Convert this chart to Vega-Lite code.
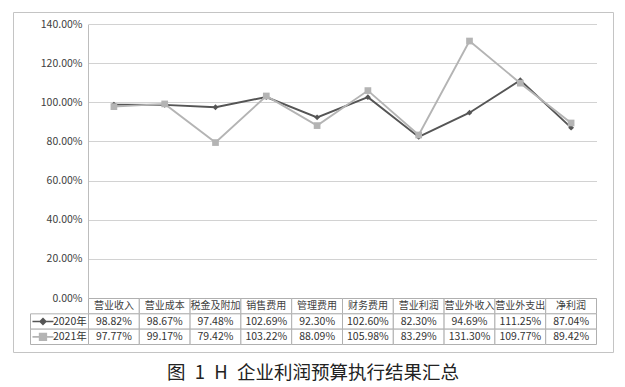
{
  "$schema": "https://vega.github.io/schema/vega-lite/v6.json",
  "width": 600,
  "height": 340,
  "autosize": {"type": "none"},
  "padding": {"left": 13, "top": 12, "right": 12, "bottom": 35},
  "background": "white",
  "config": {
    "view": {"stroke": "#c4c4c4", "strokeWidth": 1},
    "font": "Noto Sans CJK SC"
  },
  "title": {
    "text": "图\u20021\u2002H\u2002企业利润预算执行结果汇总",
    "orient": "bottom",
    "anchor": "middle",
    "offset": 12,
    "fontSize": 18.5,
    "fontWeight": "normal",
    "font": "Noto Sans CJK SC",
    "color": "#222222"
  },
  "datasets": {
    "vals": [
      {"item": "营业收入", "series": "2020年", "value": 0.9882},
      {"item": "营业成本", "series": "2020年", "value": 0.9867},
      {"item": "税金及附加", "series": "2020年", "value": 0.9748},
      {"item": "销售费用", "series": "2020年", "value": 1.0269},
      {"item": "管理费用", "series": "2020年", "value": 0.923},
      {"item": "财务费用", "series": "2020年", "value": 1.026},
      {"item": "营业利润", "series": "2020年", "value": 0.823},
      {"item": "营业外收入", "series": "2020年", "value": 0.9469},
      {"item": "营业外支出", "series": "2020年", "value": 1.1125},
      {"item": "净利润", "series": "2020年", "value": 0.8704},
      {"item": "营业收入", "series": "2021年", "value": 0.9777},
      {"item": "营业成本", "series": "2021年", "value": 0.9917},
      {"item": "税金及附加", "series": "2021年", "value": 0.7942},
      {"item": "销售费用", "series": "2021年", "value": 1.0322},
      {"item": "管理费用", "series": "2021年", "value": 0.8809},
      {"item": "财务费用", "series": "2021年", "value": 1.0598},
      {"item": "营业利润", "series": "2021年", "value": 0.8329},
      {"item": "营业外收入", "series": "2021年", "value": 1.313},
      {"item": "营业外支出", "series": "2021年", "value": 1.0977},
      {"item": "净利润", "series": "2021年", "value": 0.8942}
    ],
    "series": [{"series": "2020年"}, {"series": "2021年"}]
  },
  "resolve": {
    "scale": {"x": "independent", "y": "independent", "color": "independent", "shape": "independent", "fill": "independent", "stroke": "independent"},
    "axis": {"x": "independent", "y": "independent"}
  },
  "layer": [
    {
      "data": {"name": "vals"},
      "encoding": {
        "x": {
          "field": "item", "type": "nominal", "sort": null,
          "scale": {"type": "band", "domain": ["营业收入", "营业成本", "税金及附加", "销售费用", "管理费用", "财务费用", "营业利润", "营业外收入", "营业外支出", "净利润"], "range": [75.5, 583.5], "paddingInner": 0, "paddingOuter": 0},
          "axis": null
        },
        "y": {
          "field": "value", "type": "quantitative",
          "scale": {"domain": [0, 1.4], "range": [286, 12], "nice": false, "zero": true},
          "axis": {
            "orient": "left", "offset": -75, "values": [0, 0.2, 0.4, 0.6, 0.8, 1, 1.2, 1.4],
            "format": ".2%", "grid": true, "gridColor": "#d2d2d2", "gridWidth": 1,
            "domain": true, "domainColor": "#bdbdbd", "ticks": false, "labelPadding": 6,
            "labelFontSize": 10.5, "labelColor": "#404040", "labelFont": "Noto Sans CJK SC", "title": null
          }
        },
        "color": {"field": "series", "type": "nominal", "scale": {"domain": ["2020年", "2021年"], "range": ["#555555", "#b4b4b4"]}, "legend": null}
      },
      "layer": [
        {"mark": {"type": "line", "strokeWidth": 1.9}},
        {
          "transform": [{"filter": "datum.series === '2020年'"}],
          "mark": {"type": "point", "filled": true, "opacity": 1, "shape": "diamond", "size": 34}
        },
        {
          "transform": [{"filter": "datum.series === '2021年'"}],
          "mark": {"type": "point", "filled": true, "opacity": 1, "shape": "square", "size": 45}
        }
      ]
    },
    {
      "data": {"name": "vals"},
      "layer": [
        {
          "transform": [{"filter": "datum.series === '2020年'"}],
          "mark": {"type": "rect", "fill": "white", "stroke": "#b0b0b0", "strokeWidth": 1},
          "encoding": {
            "x": {"field": "item", "type": "nominal", "sort": null, "scale": {"type": "band", "domain": ["营业收入", "营业成本", "税金及附加", "销售费用", "管理费用", "财务费用", "营业利润", "营业外收入", "营业外支出", "净利润"], "range": [75.5, 583.5], "paddingInner": 0, "paddingOuter": 0}, "axis": null},
            "y": {"datum": "hdr", "type": "nominal", "scale": {"type": "band", "domain": ["hdr", "2020年", "2021年"], "range": [286.5, 332.5], "paddingInner": 0, "paddingOuter": 0}, "axis": null}
          }
        },
        {
          "transform": [{"filter": "datum.series === '2020年'"}],
          "mark": {"type": "text", "fontSize": 10, "color": "#404040", "font": "Noto Sans CJK SC"},
          "encoding": {
            "x": {"field": "item", "type": "nominal", "sort": null, "scale": {"type": "band", "domain": ["营业收入", "营业成本", "税金及附加", "销售费用", "管理费用", "财务费用", "营业利润", "营业外收入", "营业外支出", "净利润"], "range": [75.5, 583.5], "paddingInner": 0, "paddingOuter": 0}, "axis": null},
            "y": {"datum": "hdr", "type": "nominal", "scale": {"type": "band", "domain": ["hdr", "2020年", "2021年"], "range": [286.5, 332.5], "paddingInner": 0, "paddingOuter": 0}, "axis": null},
            "text": {"field": "item"}
          }
        },
        {
          "mark": {"type": "rect", "fill": "white", "stroke": "#b0b0b0", "strokeWidth": 1},
          "encoding": {
            "x": {"field": "item", "type": "nominal", "sort": null, "scale": {"type": "band", "domain": ["营业收入", "营业成本", "税金及附加", "销售费用", "管理费用", "财务费用", "营业利润", "营业外收入", "营业外支出", "净利润"], "range": [75.5, 583.5], "paddingInner": 0, "paddingOuter": 0}, "axis": null},
            "y": {"field": "series", "type": "nominal", "scale": {"type": "band", "domain": ["hdr", "2020年", "2021年"], "range": [286.5, 332.5], "paddingInner": 0, "paddingOuter": 0}, "axis": null}
          }
        },
        {
          "mark": {"type": "text", "fontSize": 10.5, "color": "#333333", "font": "Noto Sans CJK SC"},
          "encoding": {
            "x": {"field": "item", "type": "nominal", "sort": null, "scale": {"type": "band", "domain": ["营业收入", "营业成本", "税金及附加", "销售费用", "管理费用", "财务费用", "营业利润", "营业外收入", "营业外支出", "净利润"], "range": [75.5, 583.5], "paddingInner": 0, "paddingOuter": 0}, "axis": null},
            "y": {"field": "series", "type": "nominal", "scale": {"type": "band", "domain": ["hdr", "2020年", "2021年"], "range": [286.5, 332.5], "paddingInner": 0, "paddingOuter": 0}, "axis": null},
            "text": {"field": "value", "type": "quantitative", "format": ".2%"}
          }
        }
      ]
    },
    {
      "data": {"name": "series"},
      "encoding": {
        "y": {"field": "series", "type": "nominal", "scale": {"type": "band", "domain": ["hdr", "2020年", "2021年"], "range": [286.5, 332.5], "paddingInner": 0, "paddingOuter": 0}, "axis": null}
      },
      "layer": [
        {
          "mark": {"type": "rect", "fill": "white", "stroke": "#b0b0b0", "strokeWidth": 1},
          "encoding": {
            "x": {"datum": "legend", "type": "nominal", "scale": {"type": "band", "domain": ["legend"], "range": [17.5, 75.5], "paddingInner": 0, "paddingOuter": 0}, "axis": null}
          }
        },
        {
          "mark": {"type": "point", "filled": true, "opacity": 1, "size": 441, "strokeWidth": 1.6},
          "encoding": {
            "x": {"datum": "legend", "type": "nominal", "bandPosition": 0.215, "scale": {"type": "band", "domain": ["legend"], "range": [17.5, 75.5], "paddingInner": 0, "paddingOuter": 0}, "axis": null},
            "shape": {"field": "series", "type": "nominal", "scale": {"domain": ["2020年", "2021年"], "range": ["M-1,0H1M0,-0.27L0.27,0L0,0.27L-0.27,0Z", "M-1,0H1M-0.32,-0.32H0.32V0.32H-0.32Z"]}, "legend": null},
            "fill": {"field": "series", "type": "nominal", "scale": {"domain": ["2020年", "2021年"], "range": ["#555555", "#b4b4b4"]}, "legend": null},
            "stroke": {"field": "series", "type": "nominal", "scale": {"domain": ["2020年", "2021年"], "range": ["#555555", "#b4b4b4"]}, "legend": null}
          }
        },
        {
          "mark": {"type": "text", "align": "right", "fontSize": 10.5, "color": "#333333", "font": "Noto Sans CJK SC"},
          "encoding": {
            "x": {"datum": "legend", "type": "nominal", "bandPosition": 0.97, "scale": {"type": "band", "domain": ["legend"], "range": [17.5, 75.5], "paddingInner": 0, "paddingOuter": 0}, "axis": null},
            "text": {"field": "series"}
          }
        }
      ]
    }
  ]
}
